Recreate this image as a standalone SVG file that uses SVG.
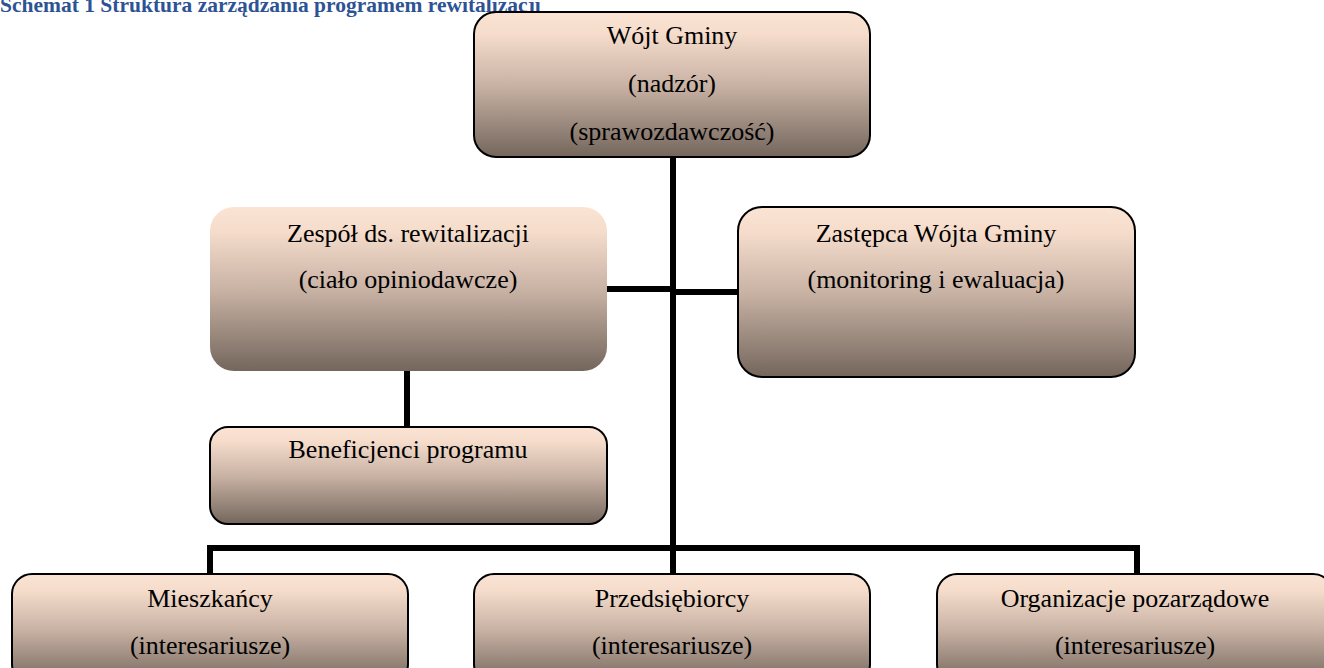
<svg xmlns="http://www.w3.org/2000/svg" width="1324" height="668" viewBox="0 0 1324 668">
<defs>
<linearGradient id="peach" x1="0" y1="0" x2="0" y2="1">
<stop offset="0" stop-color="#fbe4d4"/>
<stop offset="0.15" stop-color="#f5dccb"/>
<stop offset="0.5" stop-color="#c9b3a5"/>
<stop offset="1" stop-color="#74665c"/>
</linearGradient>
</defs>
<style>
.box{fill:url(#peach);stroke:#000;stroke-width:2}
.nob{fill:url(#peach);stroke:none}
.t{font-family:"Liberation Serif","Times New Roman",serif;font-size:26px;fill:#000;text-anchor:middle}
.title{font-family:"Liberation Serif","Times New Roman",serif;font-size:21.5px;font-weight:bold;fill:#2e5395}
.ln{stroke:#000;stroke-width:6;fill:none}
</style>
<rect width="1324" height="668" fill="#fff"/>
<text class="title" x="0" y="12">Schemat 1 Struktura zarządzania programem rewitalizacji</text>
<g id="connectors">
<line class="ln" x1="673" y1="157" x2="673" y2="574"/>
<line class="ln" x1="607" y1="289" x2="673" y2="289"/>
<line class="ln" x1="673" y1="292" x2="738" y2="292"/>
<line class="ln" x1="407" y1="371" x2="407" y2="427"/>
<polyline class="ln" points="210,574 210,548 1137,548 1137,574"/>
</g>
<g id="wojt">
<rect class="box" x="474" y="12" width="396" height="145" rx="22"/>
<text class="t" x="672" y="44">Wójt Gminy</text>
<text class="t" x="672" y="92">(nadzór)</text>
<text class="t" x="672" y="140">(sprawozdawczość)</text>
</g>
<g id="zespol">
<rect class="nob" x="210" y="207" width="397" height="164" rx="24"/>
<text class="t" x="408" y="242">Zespół ds. rewitalizacji</text>
<text class="t" x="408" y="288">(ciało opiniodawcze)</text>
</g>
<g id="zastepca">
<rect class="box" x="738" y="207" width="397" height="170" rx="24"/>
<text class="t" x="936" y="242">Zastępca Wójta Gminy</text>
<text class="t" x="936" y="288">(monitoring i ewaluacja)</text>
</g>
<g id="beneficjenci">
<rect class="box" x="210" y="427" width="397" height="97" rx="18"/>
<text class="t" x="408" y="458">Beneficjenci programu</text>
</g>
<g id="mieszkancy">
<rect class="box" x="12" y="574" width="396" height="110" rx="20"/>
<text class="t" x="210" y="607">Mieszkańcy</text>
<text class="t" x="210" y="654">(interesariusze)</text>
</g>
<g id="przedsiebiorcy">
<rect class="box" x="474" y="574" width="396" height="110" rx="20"/>
<text class="t" x="672" y="607">Przedsiębiorcy</text>
<text class="t" x="672" y="654">(interesariusze)</text>
</g>
<g id="organizacje">
<rect class="box" x="937" y="574" width="396" height="110" rx="20"/>
<text class="t" x="1135" y="607">Organizacje pozarządowe</text>
<text class="t" x="1135" y="654">(interesariusze)</text>
</g>
</svg>
